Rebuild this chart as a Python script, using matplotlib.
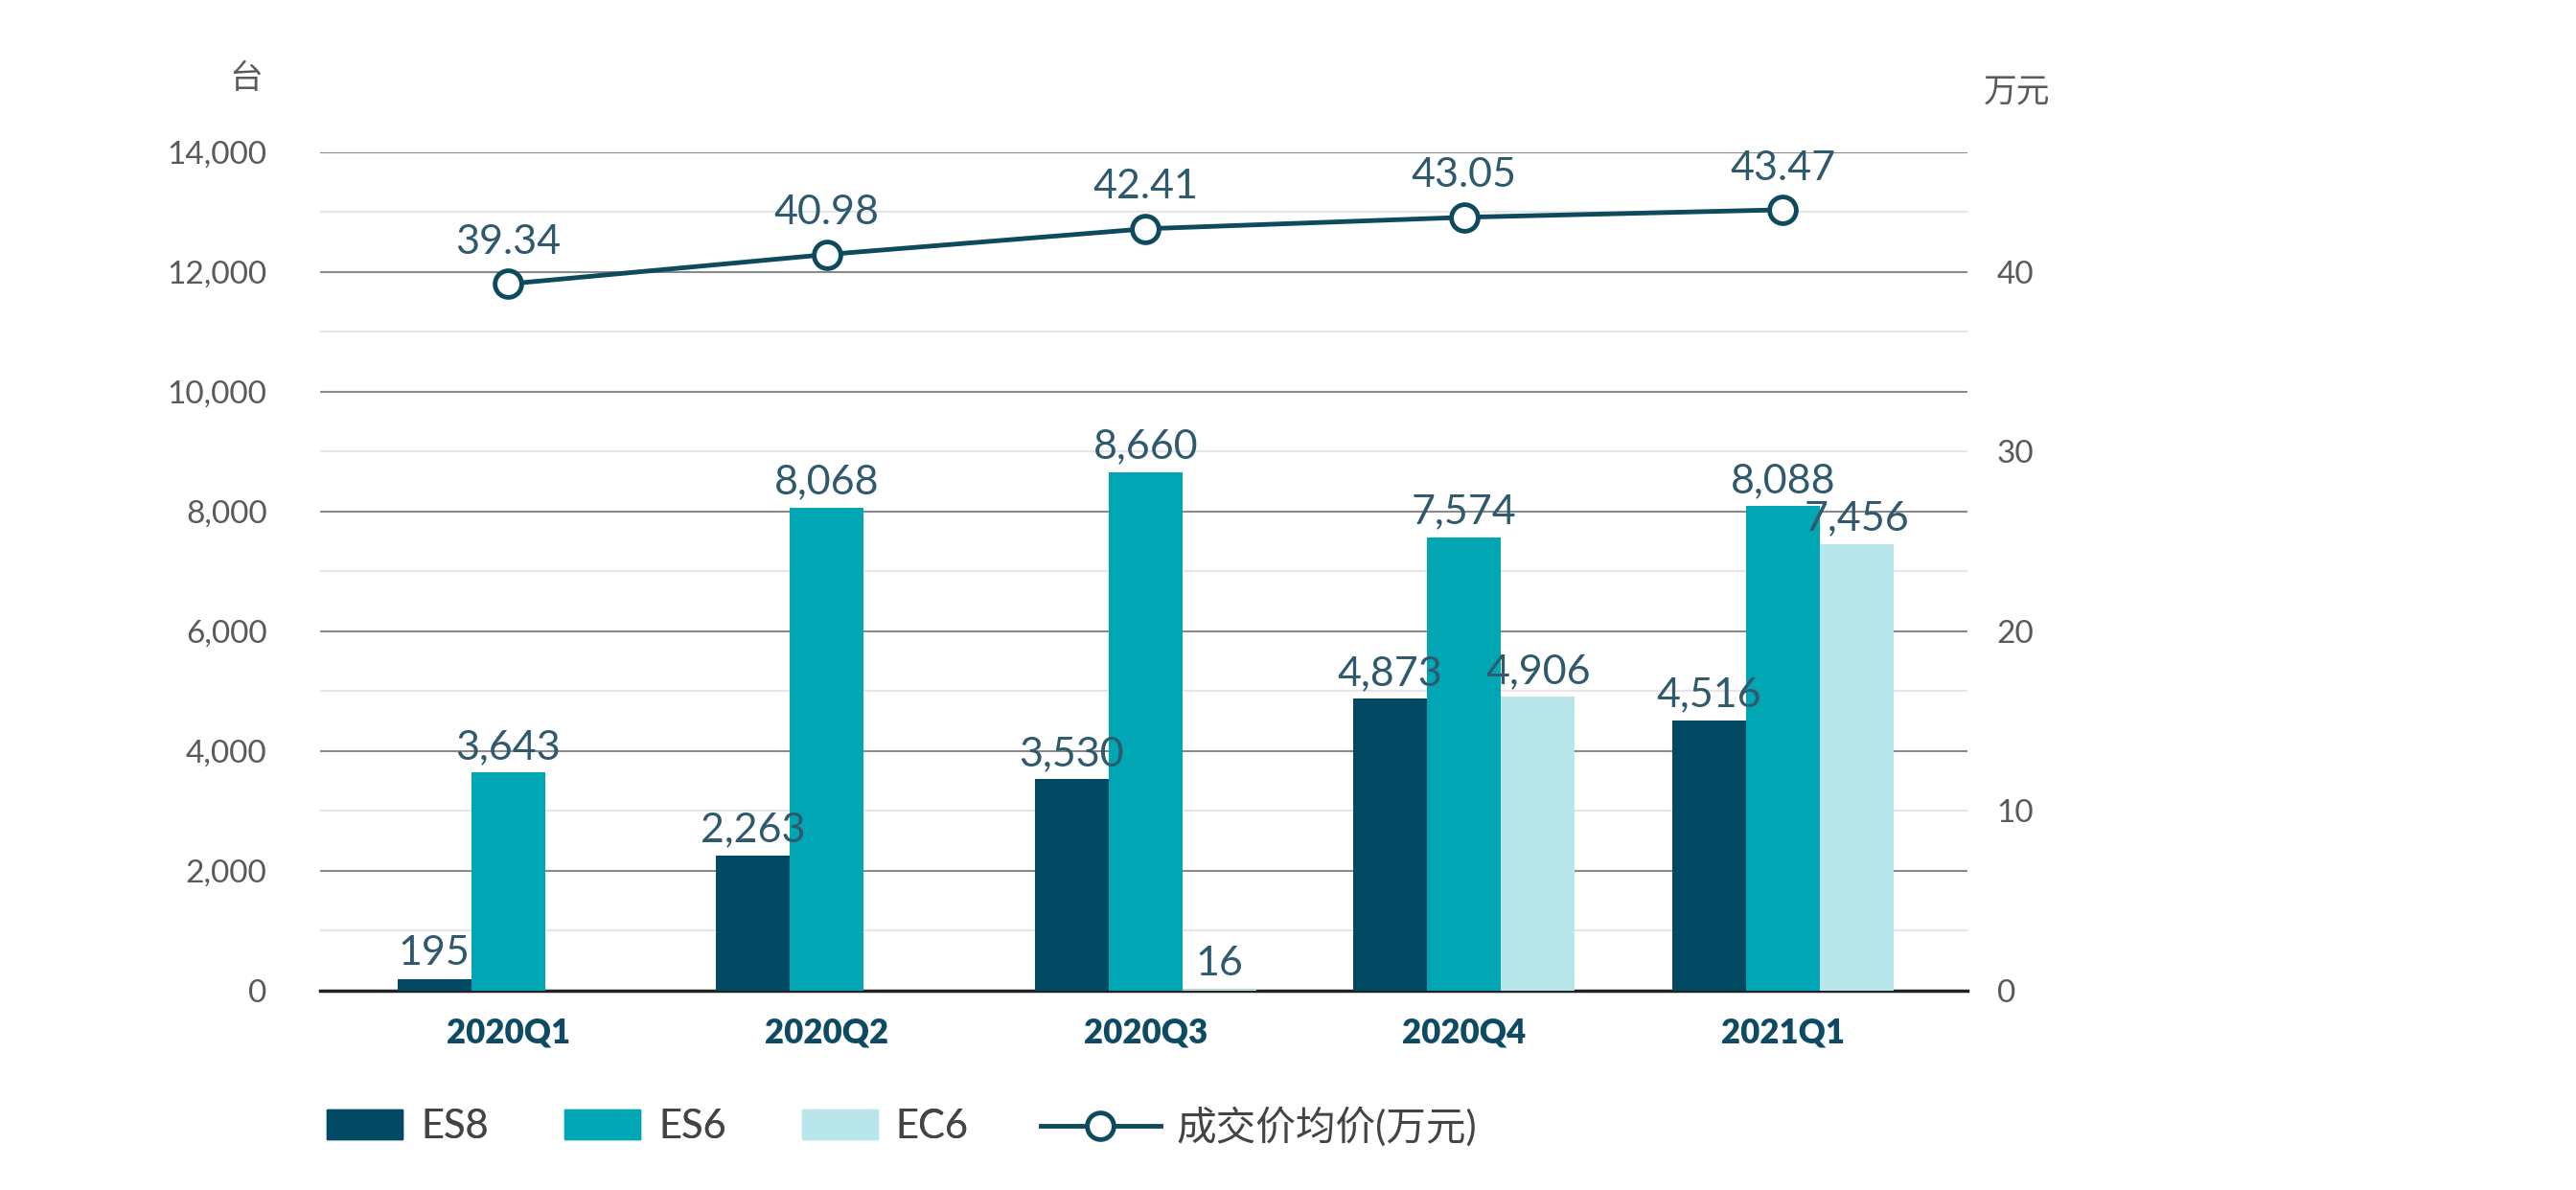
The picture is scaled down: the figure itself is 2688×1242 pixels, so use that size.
import matplotlib
matplotlib.use("Agg")
import matplotlib.pyplot as plt
from matplotlib.lines import Line2D
from matplotlib.patches import Patch
import numpy as np

plt.rcParams['font.family'] = ['Lato', 'Noto Sans CJK SC', 'DejaVu Sans']

# ---- data ----
quarters = ['2020Q1', '2020Q2', '2020Q3', '2020Q4', '2021Q1']
es8 = [195, 2263, 3530, 4873, 4516]
es6 = [3643, 8068, 8660, 7574, 8088]
ec6 = [None, None, 16, 4906, 7456]
avg_price = [39.34, 40.98, 42.41, 43.05, 43.47]
series_names = ['ES8', 'ES6', 'EC6']
line_name = '成交价均价(万元)'

c_es8 = '#024a63'
c_es6 = '#00a6b4'
c_ec6 = '#b8e6eb'
c_line = '#0e4a5e'
c_lab = '#2f5a6e'
c_tick = '#5a5a5a'

fig = plt.figure(figsize=(26.88, 12.42), dpi=100)
ax = fig.add_axes([0.1243, 0.1675, 0.6395, 0.7045])

x = np.arange(len(quarters))
w = 0.232
for vals, off, col in [(es8, -w, c_es8), (es6, 0, c_es6), (ec6, w, c_ec6)]:
    xs = [xi + off for xi, v in zip(x, vals) if v is not None]
    vs = [v for v in vals if v is not None]
    ax.bar(xs, vs, width=w, color=col, zorder=3)
    for xi, v in zip(xs, vs):
        ax.text(xi, v + 120, f'{v:,}', ha='center', va='bottom',
                fontsize=31, color=c_lab, zorder=4)

ax.set_xlim(-0.59, 4.58)
ax.set_ylim(0, 14000)
ax.set_yticks(np.arange(0, 14001, 2000))
ax.set_yticklabels([f'{v:,}' for v in range(0, 14001, 2000)])
ax.set_yticks(np.arange(1000, 14000, 2000), minor=True)
ax.grid(axis='y', which='major', color='#8a8a8a', linewidth=1.5, zorder=0)
ax.grid(axis='y', which='minor', color='#e6e6e6', linewidth=1.5, zorder=0)
ax.set_xticks(x)
ax.set_xticklabels(quarters, fontsize=25, fontweight='heavy', color='#0d4a63')
for s in ['top', 'left', 'right']:
    ax.spines[s].set_visible(False)
ax.spines['bottom'].set_color('#222222')
ax.spines['bottom'].set_linewidth(2.5)
ax.tick_params(axis='both', which='both', length=0)
ax.tick_params(axis='y', labelsize=24, labelcolor=c_tick, pad=40)
ax.tick_params(axis='x', pad=20)

ax2 = ax.twinx()
ax2.set_ylim(0, 14000 / 300)
ax2.set_yticks([0, 10, 20, 30, 40])
ax2.tick_params(axis='y', length=0, labelsize=24, labelcolor=c_tick, pad=22)
for s in ax2.spines.values():
    s.set_visible(False)
ax2.plot(x, avg_price, color=c_line, linewidth=3.5, marker='o', markersize=20,
         markerfacecolor='white', markeredgecolor=c_line, markeredgewidth=3.5, zorder=5)
for xi, v in zip(x, avg_price):
    ax2.text(xi, v + 1.3, f'{v:.2f}', ha='center', va='bottom', fontsize=31, color=c_lab)

fig.text(257 / 2688, 1 - 82 / 1242, '台', fontsize=25, color=c_tick, ha='center', va='center')
fig.text(2105 / 2688, 1 - 96 / 1242, '万元', fontsize=25, color=c_tick, ha='center', va='center')

bar_handles = [Patch(color=c) for c in (c_es8, c_es6, c_ec6)]
leg1 = fig.legend(bar_handles, series_names, loc='center left', ncol=3, frameon=False,
                  bbox_to_anchor=(0.113, 1 - 1176 / 1242), fontsize=30,
                  handlelength=1.9, handleheight=0.8, handletextpad=0.45,
                  columnspacing=1.9, labelcolor='#444444')
line_handle = Line2D([], [], color=c_line, linewidth=3.5, marker='o', markersize=20,
                     markerfacecolor='white', markeredgecolor=c_line, markeredgewidth=3.5)
fig.legend([line_handle], [line_name], loc='center left', frameon=False,
           bbox_to_anchor=(0.39, 1 - 1176 / 1242), fontsize=30,
           handlelength=3.0, handletextpad=0.4, labelcolor='#444444')
fig.add_artist(leg1)

fig.savefig('out.png', dpi=100, facecolor='white')
